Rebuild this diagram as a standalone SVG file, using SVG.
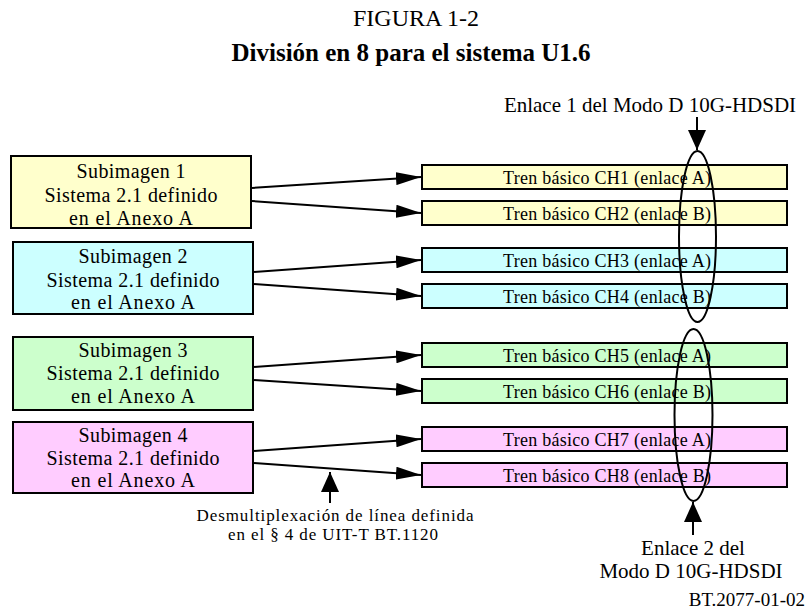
<svg xmlns="http://www.w3.org/2000/svg" width="810" height="611" viewBox="0 0 810 611">
<style>
text{font-family:"Liberation Serif","Times New Roman",serif;fill:#000}
.t{font-size:24px;text-anchor:middle}
.tb{font-size:25px;font-weight:bold;text-anchor:middle}
.lb{font-size:20px;text-anchor:middle}
.rb{font-size:18px;text-anchor:middle}
.lab{font-size:21px;text-anchor:middle}
.note{font-size:17px;text-anchor:middle}
.box{stroke:#000;stroke-width:2}
.y{fill:#FFFFCC}.c{fill:#CCFFFF}.g{fill:#CCFFCC}.p{fill:#FFCCFF}
.ln{stroke:#000;stroke-width:2;fill:none}
.ell{stroke:#000;stroke-width:2;fill:none}
</style>
<defs>
<marker id="ah" markerUnits="userSpaceOnUse" markerWidth="25" markerHeight="13" refX="25" refY="6.5" orient="auto" viewBox="0 0 25 13">
<path d="M0,0 L25,6.5 L0,13 z" fill="#000"/>
</marker>
<marker id="av" markerUnits="userSpaceOnUse" markerWidth="20" markerHeight="18" refX="20" refY="9" orient="auto" viewBox="0 0 20 18">
<path d="M0,0 L20,9 L0,18 z" fill="#000"/>
</marker>
</defs>
<rect width="810" height="611" fill="#fff"/>
<text class="t" x="416" y="26">FIGURA 1-2</text>
<text class="tb" x="411" y="61">División en 8 para el sistema U1.6</text>

<g id="sub1">
<rect class="box y" x="11" y="156" width="240" height="72"/>
<text class="lb" x="131" y="178" textLength="109" lengthAdjust="spacing">Subimagen 1</text>
<text class="lb" x="131" y="202" textLength="173" lengthAdjust="spacing">Sistema 2.1 definido</text>
<text class="lb" x="131" y="225" textLength="124" lengthAdjust="spacing">en el Anexo A</text>
</g>
<g id="sub2">
<rect class="box c" x="13" y="242" width="240" height="72"/>
<text class="lb" x="133" y="263" textLength="109" lengthAdjust="spacing">Subimagen 2</text>
<text class="lb" x="133" y="287" textLength="173" lengthAdjust="spacing">Sistema 2.1 definido</text>
<text class="lb" x="133" y="309" textLength="124" lengthAdjust="spacing">en el Anexo A</text>
</g>
<g id="sub3">
<rect class="box g" x="13" y="337" width="240" height="73"/>
<text class="lb" x="133" y="357" textLength="109" lengthAdjust="spacing">Subimagen 3</text>
<text class="lb" x="133" y="380" textLength="173" lengthAdjust="spacing">Sistema 2.1 definido</text>
<text class="lb" x="133" y="403" textLength="124" lengthAdjust="spacing">en el Anexo A</text>
</g>
<g id="sub4">
<rect class="box p" x="13" y="422" width="240" height="71"/>
<text class="lb" x="133" y="442" textLength="109" lengthAdjust="spacing">Subimagen 4</text>
<text class="lb" x="133" y="465" textLength="173" lengthAdjust="spacing">Sistema 2.1 definido</text>
<text class="lb" x="133" y="487" textLength="124" lengthAdjust="spacing">en el Anexo A</text>
</g>

<g id="ch1"><rect class="box y" x="422" y="165" width="365" height="24"/><text class="rb" x="607" y="184" textLength="208" lengthAdjust="spacing">Tren básico CH1 (enlace A)</text></g>
<g id="ch2"><rect class="box y" x="422" y="201" width="365" height="24"/><text class="rb" x="607" y="220" textLength="208" lengthAdjust="spacing">Tren básico CH2 (enlace B)</text></g>
<g id="ch3"><rect class="box c" x="422" y="248" width="365" height="24"/><text class="rb" x="607" y="267" textLength="208" lengthAdjust="spacing">Tren básico CH3 (enlace A)</text></g>
<g id="ch4"><rect class="box c" x="422" y="284" width="365" height="24"/><text class="rb" x="607" y="303" textLength="208" lengthAdjust="spacing">Tren básico CH4 (enlace B)</text></g>
<g id="ch5"><rect class="box g" x="422" y="343" width="365" height="24"/><text class="rb" x="607" y="362" textLength="208" lengthAdjust="spacing">Tren básico CH5 (enlace A)</text></g>
<g id="ch6"><rect class="box g" x="422" y="379" width="365" height="24"/><text class="rb" x="607" y="398" textLength="208" lengthAdjust="spacing">Tren básico CH6 (enlace B)</text></g>
<g id="ch7"><rect class="box p" x="422" y="427" width="365" height="24"/><text class="rb" x="607" y="446" textLength="208" lengthAdjust="spacing">Tren básico CH7 (enlace A)</text></g>
<g id="ch8"><rect class="box p" x="422" y="463" width="365" height="24"/><text class="rb" x="607" y="482" textLength="208" lengthAdjust="spacing">Tren básico CH8 (enlace B)</text></g>

<g id="link1">
<ellipse class="ell" cx="697.5" cy="236.5" rx="18.5" ry="85.5"/>
<text class="lab" x="650" y="112">Enlace 1 del Modo D 10G-HDSDI</text>
</g>
<g id="link2">
<ellipse class="ell" cx="693.5" cy="415" rx="19" ry="86"/>
<text class="lab" x="693" y="555">Enlace 2 del</text>
<text class="lab" x="691" y="578">Modo D 10G-HDSDI</text>
</g>
<g id="demux">
<text class="note" x="335" y="521" textLength="277" lengthAdjust="spacing">Desmultiplexación de línea definida</text>
<text class="note" x="333" y="540" textLength="210" lengthAdjust="spacing">en el § 4 de UIT-T BT.1120</text>
</g>

<g id="connectors">
<line class="ln" x1="252" y1="188" x2="421" y2="177" marker-end="url(#ah)"/>
<line class="ln" x1="252" y1="201" x2="421" y2="213" marker-end="url(#ah)"/>
<line class="ln" x1="254" y1="272" x2="421" y2="260" marker-end="url(#ah)"/>
<line class="ln" x1="254" y1="284" x2="421" y2="296" marker-end="url(#ah)"/>
<line class="ln" x1="254" y1="367" x2="421" y2="355" marker-end="url(#ah)"/>
<line class="ln" x1="254" y1="380" x2="421" y2="391" marker-end="url(#ah)"/>
<line class="ln" x1="254" y1="451" x2="421" y2="439" marker-end="url(#ah)"/>
<line class="ln" x1="254" y1="463" x2="421" y2="475" marker-end="url(#ah)"/>
<line class="ln" x1="697" y1="117" x2="697" y2="150" marker-end="url(#av)"/>
<line class="ln" x1="693" y1="535" x2="693" y2="502" marker-end="url(#av)"/>
<line class="ln" x1="330" y1="503" x2="330" y2="472" marker-end="url(#av)"/>
</g>

<text x="805" y="606" style="font-size:19px;text-anchor:end">BT.2077-01-02</text>
</svg>
